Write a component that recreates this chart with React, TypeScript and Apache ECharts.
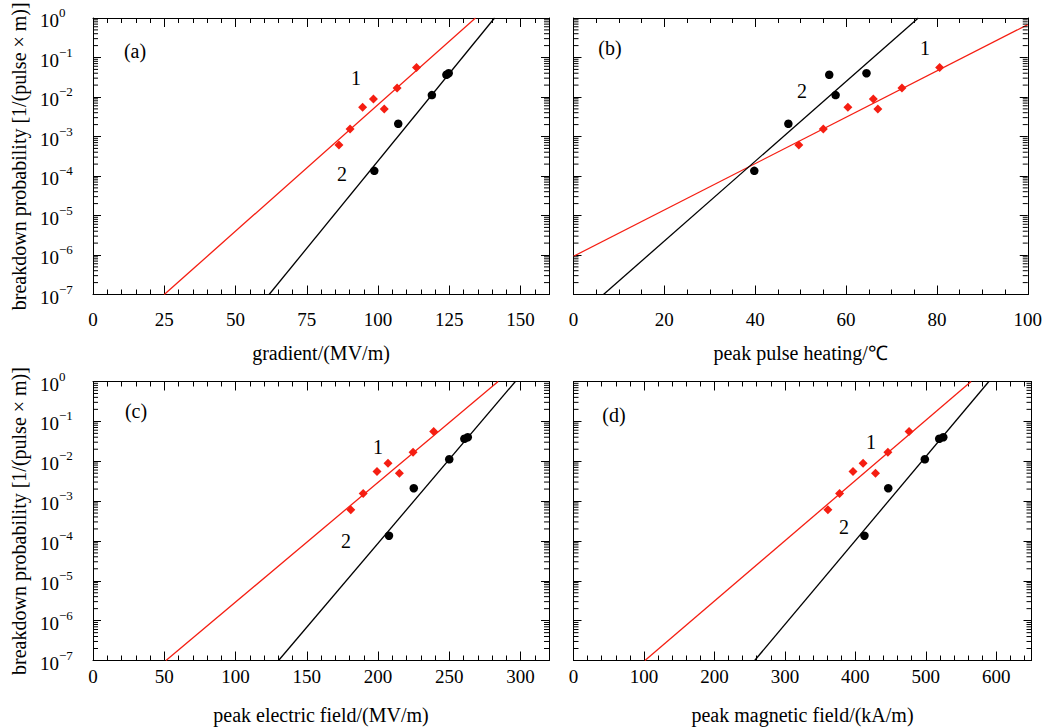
import { useEffect, useRef } from "react";
import * as echarts from "echarts";

// ---- data ----
const probRed = [6.1e-4, 1.55e-3, 5.5e-3, 8.9e-3, 5.0e-3, 1.68e-2, 5.6e-2];
const probBlack = [1.35e-4, 2.1e-3, 1.12e-2, 3.65e-2, 4.0e-2];

const gradientRed = [86.3, 90.2, 94.6, 98.4, 102.2, 106.7, 113.5];
const gradientBlack = [98.7, 107.1, 118.9, 124.0, 124.8];
const heatingRed = [49.6, 55.0, 60.4, 66.0, 67.0, 72.3, 80.6];
const heatingBlack = [39.8, 47.3, 57.7, 56.3, 64.5];
const electricRed = [180.9, 189.6, 199.3, 207.0, 215.0, 224.6, 239.1];
const electricBlack = [207.7, 225.1, 250.0, 260.6, 263.0];
const magneticRed = [361, 377.6, 396.7, 411, 428.6, 446.2, 476.2];
const magneticBlack = [412.9, 446.7, 498.6, 519.0, 524.8];

// fit lines: [x, probability] end points
const fitGradient1 = [[25.0, 1e-7], [134.2, 1]];
const fitGradient2 = [[61.8, 1e-7], [140.9, 1]];
const fitHeating1 = [[0, 9.3e-7], [100, 0.68]];
const fitHeating2 = [[6.6, 1e-7], [75.9, 1]];
const fitElectric1 = [[51.2, 1e-7], [284.3, 1]];
const fitElectric2 = [[130.2, 1e-7], [296.4, 1]];
const fitMagnetic1 = [[101.4, 1e-7], [564.3, 1]];
const fitMagnetic2 = [[257.1, 1e-7], [589.5, 1]];

const xTitles = ["gradient/(MV/m)", "peak pulse heating/℃", "peak electric field/(MV/m)", "peak magnetic field/(kA/m)"];
const xMaxes = [160, 100, 320, 650];
const xIntervals = [25, 20, 50, 100];
const xMinorSplits = [5, 4, 5, 5];
const yTitle = "breakdown probability [1/(pulse × m)]";
const yMin = 1e-7;
const yMax = 1;
const logMinorMultipliers = [2, 3, 4, 5, 6, 7, 8, 9];
const logDecades = [-7, -6, -5, -4, -3, -2, -1];
const panelLetters = ["(a)", "(b)", "(c)", "(d)"];

const xRedSets = [gradientRed, heatingRed, electricRed, magneticRed];
const xBlackSets = [gradientBlack, heatingBlack, electricBlack, magneticBlack];
const fit1Sets = [fitGradient1, fitHeating1, fitElectric1, fitMagnetic1];
const fit2Sets = [fitGradient2, fitHeating2, fitElectric2, fitMagnetic2];

// ---- layout / styles ----
const FONT = "Liberation Serif";
const RED = "#f51e12";
const GRIDS = [
  { left: 93, top: 18, width: 456, height: 276.5 },
  { left: 573.5, top: 18, width: 458, height: 276.5 },
  { left: 93, top: 381.5, width: 456, height: 279 },
  { left: 573.5, top: 381.5, width: 458, height: 279 },
];
const LABEL_MARGIN = [15.5, 15.5, 6.5, 6.5];
const NAME_GAP = [48.5, 48.5, 44.5, 44.5];
const TEXT_POS = [
  { letter: [135, 51], one: [356, 78], two: [342, 174] },
  { letter: [610, 48], one: [925, 48], two: [802, 91] },
  { letter: [136, 411], one: [378, 447], two: [346, 541] },
  { letter: [614, 415], one: [871, 442], two: [844, 527] },
];

function yLabel(v: number) {
  const e = Math.round(Math.log10(v));
  return e === 0 ? "{b|10}{s|0}" : `{b|10}{s|−${-e}}`;
}

function buildOption() {
  const grid: any[] = [];
  const xAxis: any[] = [];
  const yAxis: any[] = [];
  const series: any[] = [];
  const graphic: any[] = [];
  const minorData: number[][] = [];
  for (const d of logDecades) for (const m of logMinorMultipliers) minorData.push([0, m * Math.pow(10, d)]);

  for (let g = 0; g < 4; g++) {
    const G = GRIDS[g];
    grid.push({ left: G.left, top: G.top, width: G.width, height: G.height, containLabel: false });
    const left = g % 2 === 0;
    const baseX = {
      type: "value",
      gridIndex: g,
      min: 0,
      max: xMaxes[g],
      interval: xIntervals[g],
      axisLine: { show: true, onZero: false, lineStyle: { color: "#000", width: 1 } },
      axisTick: { show: true, inside: true, length: 9, lineStyle: { color: "#000" } },
      minorTick: { show: true, splitNumber: xMinorSplits[g], length: 5, lineStyle: { color: "#000" } },
      splitLine: { show: false },
    };
    xAxis.push({
      ...baseX,
      position: "bottom",
      name: xTitles[g],
      nameLocation: "middle",
      nameGap: NAME_GAP[g],
      nameTextStyle: { fontFamily: FONT, fontSize: 20, color: "#000" },
      axisLabel: { show: true, fontFamily: FONT, fontSize: 19, color: "#000", margin: LABEL_MARGIN[g],
        showMaxLabel: xMaxes[g] % xIntervals[g] === 0 },
    });
    xAxis.push({ ...baseX, position: "top", axisLabel: { show: false } });
    const baseY = {
      type: "log",
      logBase: 10,
      gridIndex: g,
      min: yMin,
      max: yMax,
      interval: 1,
      axisLine: { show: true, onZero: false, lineStyle: { color: "#000", width: 1 } },
      axisTick: { show: true, inside: true, length: 8, lineStyle: { color: "#000" } },
      splitLine: { show: false },
    };
    yAxis.push({
      ...baseY,
      position: "left",
      name: left ? yTitle : "",
      nameLocation: "middle",
      nameGap: 64,
      nameTextStyle: { fontFamily: FONT, fontSize: 20, color: "#000" },
      axisLabel: left
        ? {
            show: true,
            align: "left",
            margin: 53,
            formatter: yLabel,
            rich: {
              b: { fontFamily: FONT, fontSize: 19, color: "#000", lineHeight: 24, verticalAlign: "bottom" },
              s: { fontFamily: FONT, fontSize: 13, color: "#000", lineHeight: 13, verticalAlign: "top" },
            },
          }
        : { show: false },
    });
    yAxis.push({ ...baseY, position: "right", axisLabel: { show: false } });

    const xi = 2 * g;
    series.push({
      type: "custom",
      xAxisIndex: xi,
      yAxisIndex: xi,
      silent: true,
      clip: false,
      z: 5,
      data: minorData,
      renderItem: (params: any, api: any) => {
        const cs = params.coordSys;
        const y = api.coord([api.value(0), api.value(1)])[1];
        return {
          type: "group",
          children: [
            { type: "line", shape: { x1: cs.x, y1: y, x2: cs.x + 5, y2: y }, style: { stroke: "#000", lineWidth: 1 } },
            { type: "line", shape: { x1: cs.x + cs.width - 5, y1: y, x2: cs.x + cs.width, y2: y }, style: { stroke: "#000", lineWidth: 1 } },
          ],
        };
      },
    });
    series.push({
      type: "line",
      xAxisIndex: xi,
      yAxisIndex: xi,
      data: fit1Sets[g],
      showSymbol: false,
      symbol: "none",
      lineStyle: { color: RED, width: 1.3 },
      clip: true,
      z: 3,
    });
    series.push({
      type: "line",
      xAxisIndex: xi,
      yAxisIndex: xi,
      data: fit2Sets[g],
      showSymbol: false,
      symbol: "none",
      lineStyle: { color: "#000", width: 1.3 },
      clip: true,
      z: 3,
    });
    series.push({
      type: "scatter",
      xAxisIndex: xi,
      yAxisIndex: xi,
      data: xRedSets[g].map((x, i) => [x, probRed[i]]),
      symbol: "diamond",
      symbolSize: 9,
      itemStyle: { color: RED, opacity: 1 },
      z: 4,
    });
    series.push({
      type: "scatter",
      xAxisIndex: xi,
      yAxisIndex: xi,
      data: xBlackSets[g].map((x, i) => [x, probBlack[i]]),
      symbol: "circle",
      symbolSize: 8.5,
      itemStyle: { color: "#000", opacity: 1 },
      z: 4,
    });

    const P = TEXT_POS[g];
    const txt = (s: string, p: number[], size: number) => ({
      type: "text",
      x: p[0],
      y: p[1],
      style: { text: s, fontFamily: FONT, fontSize: size, fill: "#000", align: "center", verticalAlign: "middle" },
      z: 10,
    });
    graphic.push(txt(panelLetters[g], P.letter, 20));
    graphic.push(txt("1", P.one, 20));
    graphic.push(txt("2", P.two, 20));
  }

  return { animation: false, backgroundColor: "#fff", grid, xAxis, yAxis, series, graphic };
}

export default function App() {
  const ref = useRef<HTMLDivElement>(null);
  useEffect(() => {
    if (!ref.current) return;
    const chart = echarts.init(ref.current, undefined, { renderer: "svg" });
    chart.setOption(buildOption() as any);
    return () => chart.dispose();
  }, []);
  return <div ref={ref} style={{ position: "absolute", left: 0, top: 0, width: 1045, height: 727 }} />;
}
